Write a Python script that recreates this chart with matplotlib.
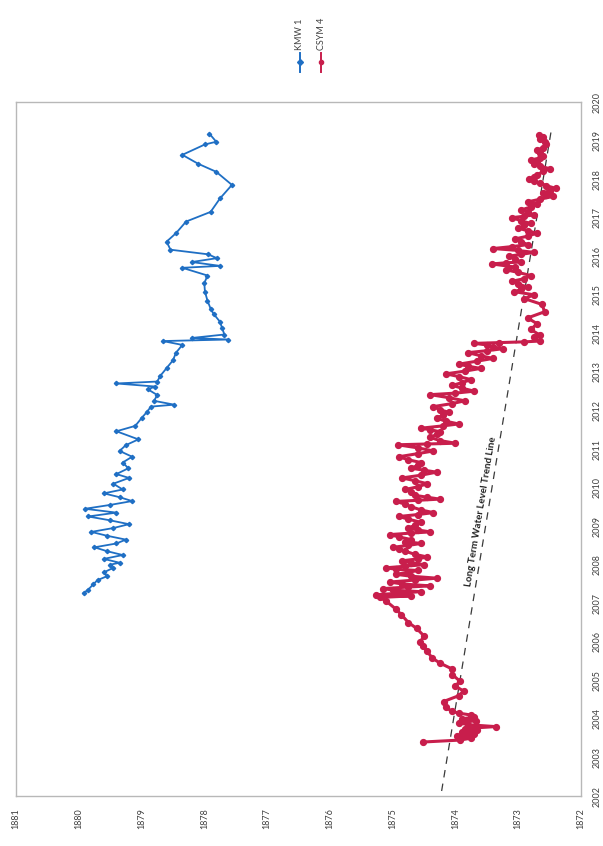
import numpy as np
import matplotlib.pyplot as plt
from matplotlib.lines import Line2D

# water level hydrographs, drawn sideways: level runs along the bottom, time up the right side
# (year, level ft) readings
kmw_1 = [
    (2007.27, 1879.92), (2007.35, 1879.85), (2007.49, 1879.77), (2007.60, 1879.70),
    (2007.70, 1879.55), (2007.80, 1879.60), (2007.91, 1879.46), (2008.00, 1879.50),
    (2008.05, 1879.35), (2008.15, 1879.60), (2008.25, 1879.30), (2008.35, 1879.55),
    (2008.45, 1879.75), (2008.55, 1879.40), (2008.65, 1879.25), (2008.75, 1879.55),
    (2008.85, 1879.80), (2008.95, 1879.45), (2009.05, 1879.20), (2009.15, 1879.50),
    (2009.25, 1879.85), (2009.35, 1879.40), (2009.45, 1879.90), (2009.55, 1879.50),
    (2009.65, 1879.15), (2009.75, 1879.35), (2009.85, 1879.60), (2009.95, 1879.30),
    (2010.10, 1879.45), (2010.25, 1879.20), (2010.35, 1879.40), (2010.50, 1879.21),
    (2010.65, 1879.30), (2010.80, 1879.15), (2010.95, 1879.35), (2011.10, 1879.25),
    (2011.25, 1879.05), (2011.46, 1879.40), (2011.60, 1879.10), (2011.80, 1879.00),
    (2011.97, 1878.91), (2012.10, 1878.85), (2012.15, 1878.48), (2012.25, 1878.80),
    (2012.40, 1878.75), (2012.55, 1878.90), (2012.62, 1878.78), (2012.70, 1879.40),
    (2012.75, 1878.75), (2012.90, 1878.70), (2013.10, 1878.60), (2013.30, 1878.50),
    (2013.50, 1878.45), (2013.70, 1878.35), (2013.80, 1878.66), (2013.84, 1877.62),
    (2013.88, 1878.20), (2013.97, 1877.68), (2014.15, 1877.72), (2014.30, 1877.75),
    (2014.50, 1877.85), (2014.64, 1877.90), (2014.85, 1877.95), (2015.08, 1877.99),
    (2015.30, 1878.00), (2015.50, 1877.95), (2015.70, 1878.35), (2015.75, 1877.75),
    (2015.85, 1878.20), (2015.95, 1877.80), (2016.05, 1877.94), (2016.17, 1878.54),
    (2016.38, 1878.60), (2016.60, 1878.45), (2016.90, 1878.29), (2017.15, 1877.90),
    (2017.50, 1877.75), (2017.85, 1877.56), (2018.19, 1877.81), (2018.40, 1878.10),
    (2018.63, 1878.35), (2018.90, 1877.99), (2018.97, 1877.81), (2019.18, 1877.92),
]

csym_4 = [
    (2003.40, 1874.52), (2003.45, 1873.93), (2003.50, 1873.75), (2003.55, 1873.98),
    (2003.60, 1873.70), (2003.65, 1873.90), (2003.70, 1873.65), (2003.75, 1873.85),
    (2003.80, 1873.36), (2003.85, 1873.80), (2003.90, 1873.95), (2003.95, 1873.68),
    (2004.00, 1873.90), (2004.05, 1873.70), (2004.10, 1873.75), (2004.15, 1873.95),
    (2004.20, 1874.06), (2004.30, 1874.15), (2004.45, 1874.19), (2004.60, 1873.95),
    (2004.72, 1873.87), (2004.85, 1874.00), (2004.98, 1873.93), (2005.15, 1874.05),
    (2005.30, 1874.06), (2005.45, 1874.25), (2005.58, 1874.37), (2005.75, 1874.45),
    (2005.90, 1874.52), (2006.00, 1874.56), (2006.15, 1874.50), (2006.35, 1874.62),
    (2006.50, 1874.75), (2006.70, 1874.86), (2006.85, 1874.95), (2007.05, 1875.10),
    (2007.15, 1875.20), (2007.19, 1874.70), (2007.22, 1875.26), (2007.26, 1874.90),
    (2007.30, 1874.55), (2007.34, 1875.00), (2007.38, 1875.15), (2007.42, 1874.75),
    (2007.45, 1874.40), (2007.50, 1874.85), (2007.55, 1875.05), (2007.60, 1874.65),
    (2007.65, 1874.30), (2007.70, 1874.70), (2007.75, 1874.95), (2007.80, 1874.75),
    (2007.85, 1874.60), (2007.88, 1874.95), (2007.92, 1875.10), (2007.96, 1874.80),
    (2008.00, 1874.50), (2008.05, 1874.70), (2008.10, 1874.85), (2008.15, 1874.60),
    (2008.20, 1874.45), (2008.27, 1874.65), (2008.35, 1874.80), (2008.40, 1874.90),
    (2008.45, 1875.00), (2008.50, 1874.75), (2008.55, 1874.55), (2008.60, 1874.80),
    (2008.65, 1874.70), (2008.72, 1874.90), (2008.78, 1875.05), (2008.82, 1874.70),
    (2008.85, 1874.40), (2008.90, 1874.60), (2008.95, 1874.75), (2009.02, 1874.65),
    (2009.10, 1874.55), (2009.18, 1874.75), (2009.25, 1874.90), (2009.30, 1874.60),
    (2009.35, 1874.35), (2009.42, 1874.55), (2009.50, 1874.70), (2009.57, 1874.80),
    (2009.64, 1874.95), (2009.67, 1874.60), (2009.70, 1874.25), (2009.75, 1874.45),
    (2009.80, 1874.65), (2009.88, 1874.70), (2009.95, 1874.80), (2010.02, 1874.60),
    (2010.10, 1874.45), (2010.18, 1874.65), (2010.25, 1874.85), (2010.32, 1874.55),
    (2010.40, 1874.30), (2010.45, 1874.50), (2010.50, 1874.70), (2010.58, 1874.60),
    (2010.65, 1874.55), (2010.72, 1874.75), (2010.80, 1874.90), (2010.88, 1874.60),
    (2010.95, 1874.35), (2011.03, 1874.60), (2011.11, 1874.92), (2011.13, 1874.45),
    (2011.15, 1874.00), (2011.22, 1874.25), (2011.30, 1874.40), (2011.38, 1874.30),
    (2011.45, 1874.25), (2011.50, 1874.40), (2011.54, 1874.55), (2011.60, 1874.20),
    (2011.65, 1873.95), (2011.72, 1874.15), (2011.80, 1874.30), (2011.88, 1874.20),
    (2011.95, 1874.10), (2012.02, 1874.25), (2012.10, 1874.35), (2012.18, 1874.05),
    (2012.25, 1873.85), (2012.33, 1874.10), (2012.41, 1874.40), (2012.45, 1874.00),
    (2012.50, 1873.70), (2012.58, 1873.90), (2012.65, 1874.05), (2012.72, 1873.90),
    (2012.80, 1873.75), (2012.88, 1873.95), (2012.95, 1874.15), (2013.02, 1873.85),
    (2013.09, 1873.60), (2013.15, 1873.80), (2013.20, 1873.95), (2013.28, 1873.65),
    (2013.35, 1873.40), (2013.42, 1873.60), (2013.50, 1873.80), (2013.55, 1873.50),
    (2013.60, 1873.25), (2013.65, 1873.40), (2013.70, 1873.50), (2013.74, 1873.70),
    (2013.76, 1873.30), (2013.78, 1872.90), (2013.80, 1872.66), (2013.90, 1872.75),
    (2013.96, 1872.66), (2014.10, 1872.80), (2014.25, 1872.70), (2014.40, 1872.85),
    (2014.56, 1872.58), (2014.75, 1872.62), (2014.90, 1872.90), (2015.00, 1872.75),
    (2015.08, 1873.06), (2015.14, 1872.95), (2015.20, 1872.85), (2015.28, 1873.00),
    (2015.35, 1873.10), (2015.42, 1872.90), (2015.50, 1872.80), (2015.58, 1873.00),
    (2015.65, 1873.20), (2015.72, 1873.05), (2015.80, 1873.42), (2015.83, 1873.20),
    (2015.85, 1872.95), (2015.92, 1873.05), (2016.00, 1873.15), (2016.05, 1872.95),
    (2016.10, 1872.75), (2016.15, 1873.00), (2016.20, 1873.40), (2016.25, 1873.10),
    (2016.30, 1872.85), (2016.38, 1872.95), (2016.45, 1873.05), (2016.52, 1872.85),
    (2016.60, 1872.70), (2016.66, 1872.85), (2016.73, 1873.00), (2016.80, 1872.90),
    (2016.85, 1872.80), (2016.92, 1872.95), (2017.00, 1873.10), (2017.04, 1872.90),
    (2017.07, 1872.75), (2017.14, 1872.85), (2017.20, 1872.95), (2017.28, 1872.80),
    (2017.35, 1872.70), (2017.41, 1872.85), (2017.48, 1872.65), (2017.55, 1872.45),
    (2017.60, 1872.55), (2017.65, 1872.60), (2017.70, 1872.50), (2017.76, 1872.40),
    (2017.83, 1872.55), (2017.90, 1872.65), (2017.95, 1872.75), (2018.00, 1872.83),
    (2018.05, 1872.75), (2018.11, 1872.70), (2018.20, 1872.60), (2018.27, 1872.50),
    (2018.34, 1872.65), (2018.40, 1872.75), (2018.45, 1872.70), (2018.50, 1872.79),
    (2018.55, 1872.65), (2018.60, 1872.60), (2018.68, 1872.65), (2018.75, 1872.70),
    (2018.82, 1872.60), (2018.90, 1872.55), (2018.97, 1872.58), (2019.05, 1872.65),
    (2019.10, 1872.60), (2019.15, 1872.67),
]

trend_year = [2002.13, 2019.30]
trend_level = [1874.22, 1872.47]

level_ticks = list(range(1872, 1882))
year_ticks = list(range(2002, 2021))

kmw_year, kmw_level = zip(*kmw_1)
csym_year, csym_level = zip(*csym_4)

blue = '#1f6fc4'
red = '#c81e4c'
grey = '#404040'

plt.rcParams['font.family'] = ['Lato', 'DejaVu Sans']

fig = plt.figure(figsize=(6.03, 8.46), dpi=100)
ax = fig.add_axes([0.0265, 0.0591, 0.937, 0.8203])

ax.plot(csym_level, csym_year, color=red, lw=2.2, marker='o', ms=4.2,
        mec=red, zorder=3)
ax.plot(kmw_level, kmw_year, color=blue, lw=1.3, marker='D', ms=2.2,
        mec=blue, zorder=4)
ax.plot(trend_level, trend_year, color='#3a3a3a', lw=0.9, dashes=(6, 5), zorder=2)

ax.set_xlim(1881, 1872)
ax.set_ylim(2002, 2020)

ax.set_xticks(level_ticks)
ax.set_xticklabels([str(v) for v in level_ticks], rotation=90)
ax.yaxis.tick_right()
ax.set_yticks(year_ticks)
ax.tick_params(length=0, labelsize=6.5, labelcolor=grey)
ax.tick_params(axis='x', pad=9)
ax.tick_params(axis='y', pad=8, labelrotation=90)
for t in ax.yaxis.get_majorticklabels():
    t.set_va('center')
    t.set_ha('left')

for s in ax.spines.values():
    s.set_color('#b8b8b8')
    s.set_linewidth(1.0)

# label laid along the trend line
p1 = ax.transData.transform((trend_level[0], trend_year[0]))
p2 = ax.transData.transform((trend_level[1], trend_year[1]))
ang = np.degrees(np.arctan2(p2[1] - p1[1], p2[0] - p1[0]))
ax.text(1873.60, 2009.38, 'Long Term Water Level Trend Line', rotation=ang,
        rotation_mode='anchor', ha='center', va='center', fontsize=7,
        fontweight='bold', color='#202020')

# legend, turned with the rest of the chart
W, H = 603, 846
for xp, col, mk, name in [(300, blue, 'D', 'KMW 1'), (321, red, 'o', 'CSYM 4')]:
    fx = xp / W
    fig.add_artist(Line2D([fx, fx], [1 - 72 / H, 1 - 53 / H], color=col, lw=1.4,
                          transform=fig.transFigure))
    fig.add_artist(Line2D([fx], [1 - 62.5 / H], color=col, marker=mk, ms=3,
                          transform=fig.transFigure))
    fig.text(fx, 1 - 50 / H, name, rotation=90, ha='center', va='bottom',
             fontsize=6.5, color=grey)

fig.savefig('out.png', dpi=100)
